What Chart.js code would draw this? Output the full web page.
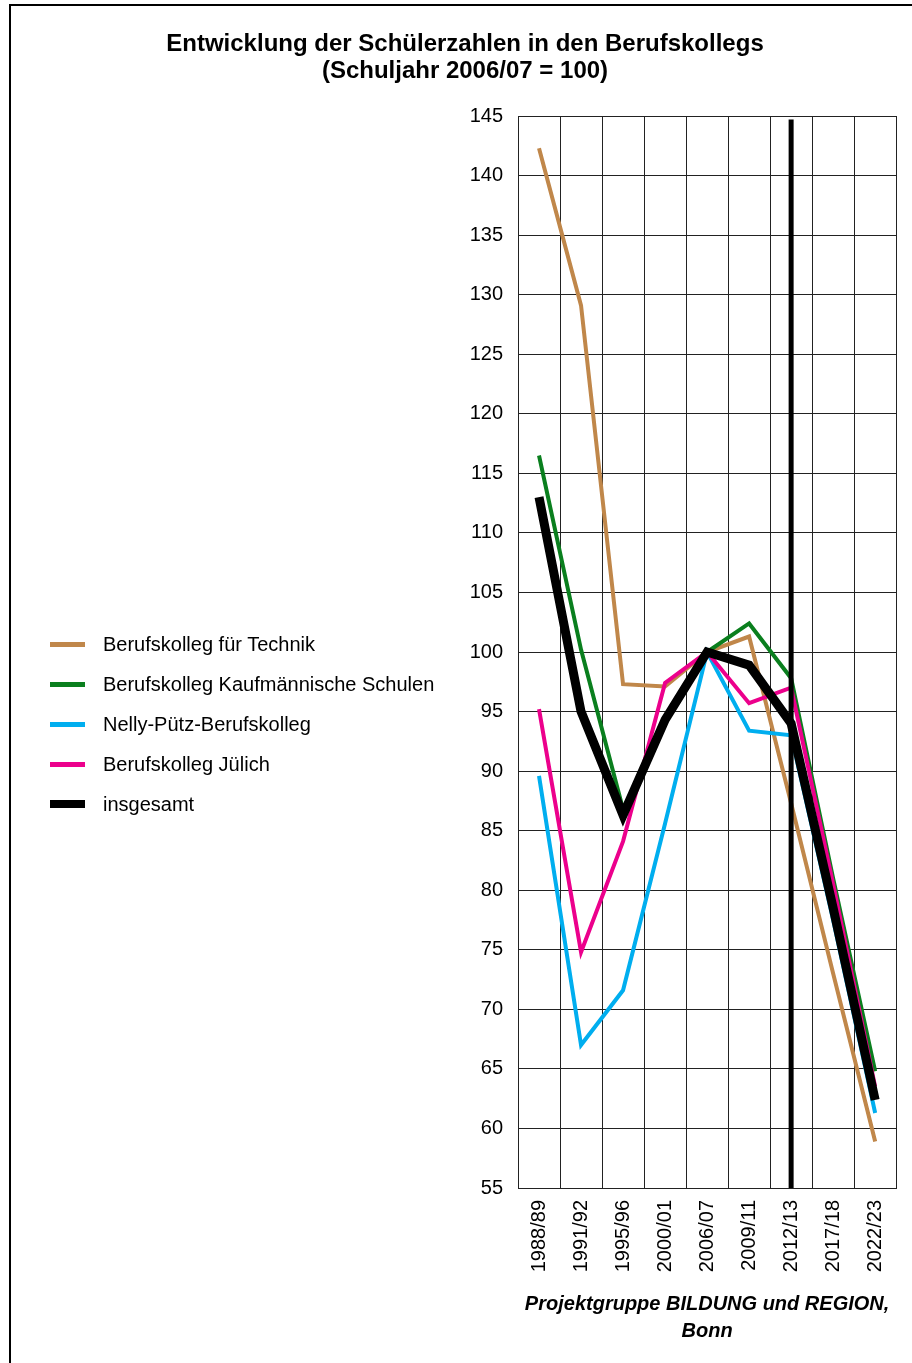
<!DOCTYPE html>
<html lang="de">
<head>
<meta charset="utf-8">
<title>Entwicklung der Schülerzahlen in den Berufskollegs</title>
<script src="https://cdn.jsdelivr.net/npm/chart.js@4/dist/chart.umd.min.js"></script>
<style>
  html, body { margin: 0; padding: 0; background: #fff; }
  #page { position: relative; width: 912px; height: 1363px; overflow: hidden; background: #fff;
          font-family: "Liberation Sans", Arial, sans-serif; color: #000; }
  #frame { position: absolute; left: 9px; top: 4px; width: 1000px; height: 1500px;
           border-top: 2px solid #000; border-left: 2px solid #000; box-sizing: border-box; }
  #title { position: absolute; left: 0; top: 29px; width: 930px; text-align: center;
           font-weight: bold; font-size: 24px; line-height: 27px; }
  #chart { position: absolute; left: 0; top: 0; }
  #legend { position: absolute; left: 0; top: 0; }
  .item { position: absolute; left: 50px; height: 30px; }
  .swatch { position: absolute; left: 0; width: 35px; }
  .label { position: absolute; left: 53px; top: 0; font-size: 20px; line-height: 30px; white-space: nowrap; }
</style>
</head>
<body>
<div id="page">
  <div id="frame"></div>
  <canvas id="chart" width="912" height="1363"></canvas>
  <div id="title">Entwicklung der Schülerzahlen in den Berufskollegs<br>(Schuljahr 2006/07 = 100)</div>
  <div id="legend"></div>
</div>
<script>
// Schuljahre (Kategorien der x-Achse)
const years = ['1988/89', '1991/92', '1995/96', '2000/01', '2006/07', '2009/11', '2012/13', '2017/18', '2022/23'];

// Indexwerte, Schuljahr 2006/07 = 100
const technik   = [142.3, 129.1, 97.3, 97.1, 100, 101.3, 87.3, 73.0, 58.9];
const kaufmann  = [116.5, 100.2, 86.8, 94.0, 100, 102.4, 97.8, 81.0, 64.8];
const nelly     = [ 89.6,  67.0, 71.6, 85.6, 100,  93.4, 93.0, 77.5, 61.3];
const juelich   = [ 95.2,  74.8, 84.1, 97.4, 100,  95.7, 97.0, 80.5, 63.5];
const insgesamt = [113.0,  95.0, 86.3, 94.3, 100,  98.9, 94.0, 78.5, 62.4];

// Trennlinie beim Schuljahr 2012/13 (Ist-Werte | Prognose)
const markerYear = '2012/13';
const markerRange = [55, 144.7];

// Achsenbereich
const yMin = 55, yMax = 145, yStep = 5;

const seriesNames  = ['Berufskolleg für Technik', 'Berufskolleg Kaufmännische Schulen', 'Nelly-Pütz-Berufskolleg', 'Berufskolleg Jülich', 'insgesamt'];
const seriesData   = [technik, kaufmann, nelly, juelich, insgesamt];
const seriesColors = ['#C0874A', '#0A7F1E', '#00AEEF', '#EC008C', '#000000'];
const seriesWidths = [4, 4, 4, 4, 9];

const fontFamily = '"Liberation Sans", Arial, sans-serif';

const datasets = seriesNames.map((name, i) => ({
  label: name,
  data: seriesData[i],
  borderColor: seriesColors[i],
  backgroundColor: seriesColors[i],
  borderWidth: seriesWidths[i],
  pointRadius: 0,
  tension: 0,
  fill: false,
  borderJoinStyle: 'miter',
  order: seriesNames.length - i
}));

datasets.push({
  label: 'Trennlinie',
  data: markerRange.map(v => ({ x: markerYear, y: v })),
  borderColor: '#000',
  borderWidth: 5,
  pointRadius: 0,
  fill: false,
  order: 0
});

new Chart(document.getElementById('chart'), {
  type: 'line',
  data: { labels: years, datasets },
  options: {
    responsive: false,
    animation: false,
    devicePixelRatio: 1,
    layout: { padding: { left: 0, top: 116, right: 15, bottom: 0 } },
    plugins: { legend: { display: false }, tooltip: { enabled: false }, title: { display: false } },
    scales: {
      x: {
        type: 'category',
        offset: true,
        grid: { offset: true, color: '#222', lineWidth: 1, drawTicks: false },
        border: { display: true, color: '#222', width: 1 },
        ticks: {
          autoSkip: false, maxRotation: 90, minRotation: 90, padding: 12,
          color: '#000', font: { family: fontFamily, size: 20 }
        },
        title: {
          display: true,
          text: ['Projektgruppe BILDUNG und REGION,', 'Bonn'],
          color: '#000',
          font: { family: fontFamily, size: 20, weight: 'bold', style: 'italic', lineHeight: 1.35 },
          padding: { top: 0, bottom: 18 }
        },
        afterFit: (scale) => { scale.height = 175; }
      },
      y: {
        min: yMin, max: yMax,
        grid: { color: '#222', lineWidth: 1, drawTicks: false },
        border: { display: true, color: '#222', width: 1 },
        ticks: { stepSize: yStep, padding: 15, color: '#000', font: { family: fontFamily, size: 20 } },
        afterFit: (scale) => { scale.width = 518; }
      }
    }
  }
});

// Legende links neben dem Diagramm
const legend = document.getElementById('legend');
seriesNames.forEach((name, i) => {
  const item = document.createElement('div');
  item.className = 'item';
  item.style.top = (629 + i * 40) + 'px';
  const sw = document.createElement('div');
  sw.className = 'swatch';
  const h = i === seriesNames.length - 1 ? 8 : 5;
  sw.style.height = h + 'px';
  sw.style.top = (15 - h / 2) + 'px';
  sw.style.background = seriesColors[i];
  const lb = document.createElement('div');
  lb.className = 'label';
  lb.textContent = name;
  item.appendChild(sw);
  item.appendChild(lb);
  legend.appendChild(item);
});
</script>
</body>
</html>
